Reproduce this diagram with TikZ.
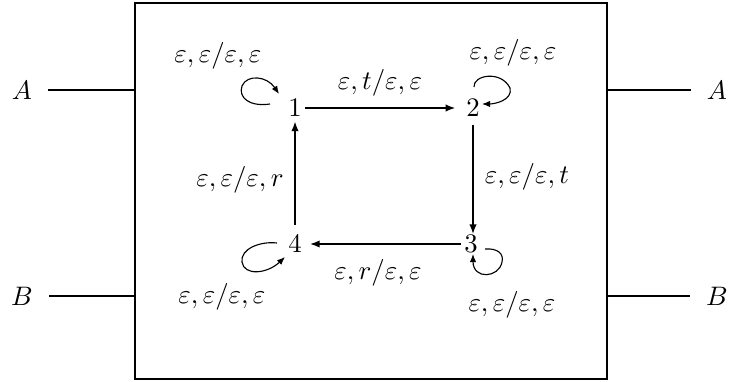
\documentclass[tikz,border=0pt]{standalone}
\usetikzlibrary{arrows.meta}
\begin{document}
\begin{tikzpicture}[x=0.374pt,y=-0.374pt,
  state/.style={inner sep=1pt},
  lab/.style={inner sep=0pt},
  edgeline/.style={line width=0.8pt,-{Latex[length=3.75pt,width=2.8pt]}},
  loopline/.style={line width=0.42pt,-{Latex[length=3pt,width=2.4pt]}},
  port/.style={line width=0.42pt}]
\useasboundingbox (0,0) rectangle (729,382);
\node[draw,line width=1.03pt,minimum width=176.5pt,minimum height=140.6pt,inner sep=0pt] (box) at (371,191) {};
% states
\node[state] (n1) at (295,108) {$1$};
\node[state] (n2) at (473,108) {$2$};
\node[state] (n3) at (471,244) {$3$};
\node[state] (n4) at (295,244) {$4$};
% ports
\node (aL) at (22,90) {$A$};
\node (aR) at (717,90) {$A$};
\node (bL) at (22,296) {$B$};
\node (bR) at (717,296) {$B$};
\draw[port,shorten <=2.6pt] (aL.east) -- (aL.east -| box.west);
\draw[port,shorten <=2.6pt] (aR.west) -- (aR.west -| box.east);
\draw[port,shorten <=2.6pt] (bL.east) -- (bL.east -| box.west);
\draw[port,shorten <=2.6pt] (bR.west) -- (bR.west -| box.east);
% edges
\draw[edgeline,shorten >=2.8pt] (n1) -- (n2);
\draw[edgeline,shorten <=1.8pt,shorten >=3.6pt] (n2) -- (n2 |- n3);
\draw[edgeline,shorten >=1.8pt] (n3) -- (n4);
\draw[edgeline,shorten <=2.8pt,shorten >=0.5pt] (n4) -- (n1);
% loops
\begin{scope}[shift={(n1.center)}]
\draw[loopline] (-25,-4) .. controls (-45,-1) and (-57,-10) .. (-53,-22)
  .. controls (-48,-34) and (-28,-32) .. (-16,-14);
\end{scope}
\begin{scope}[shift={(n2.center)}]
\draw[loopline] (1,-21) .. controls (0,-33) and (28,-38) .. (37,-20)
  .. controls (40,-8) and (22,-4) .. (9,-4);
\end{scope}
\begin{scope}[shift={(n3.center)}]
\draw[loopline] (14,5) .. controls (27,4) and (33,10) .. (31,18)
  .. controls (28,34) and (2,36) .. (2,10);
\end{scope}
\begin{scope}[shift={(n4.center)}]
\draw[loopline] (-18,-1) .. controls (-35,-3) and (-55,5) .. (-53,18)
  .. controls (-51,32) and (-28,30) .. (-10,13);
\end{scope}
% labels
\node[lab] (l1) at (218,56) {$\varepsilon,\varepsilon/\varepsilon,\varepsilon$};
\node[lab] (l12) at (380,83) {$\varepsilon,t/\varepsilon,\varepsilon$};
\node[lab] (l2) at (513,53) {$\varepsilon,\varepsilon/\varepsilon,\varepsilon$};
\node[lab] (l23) at (527,177) {$\varepsilon,\varepsilon/\varepsilon,t$};
\node[lab] (l34) at (378,273) {$\varepsilon,r/\varepsilon,\varepsilon$};
\node[lab] (l41) at (240,180) {$\varepsilon,\varepsilon/\varepsilon,r$};
\node[lab] (l3) at (512,305) {$\varepsilon,\varepsilon/\varepsilon,\varepsilon$};
\node[lab] (l4) at (222,297) {$\varepsilon,\varepsilon/\varepsilon,\varepsilon$};
\end{tikzpicture}
\end{document}
